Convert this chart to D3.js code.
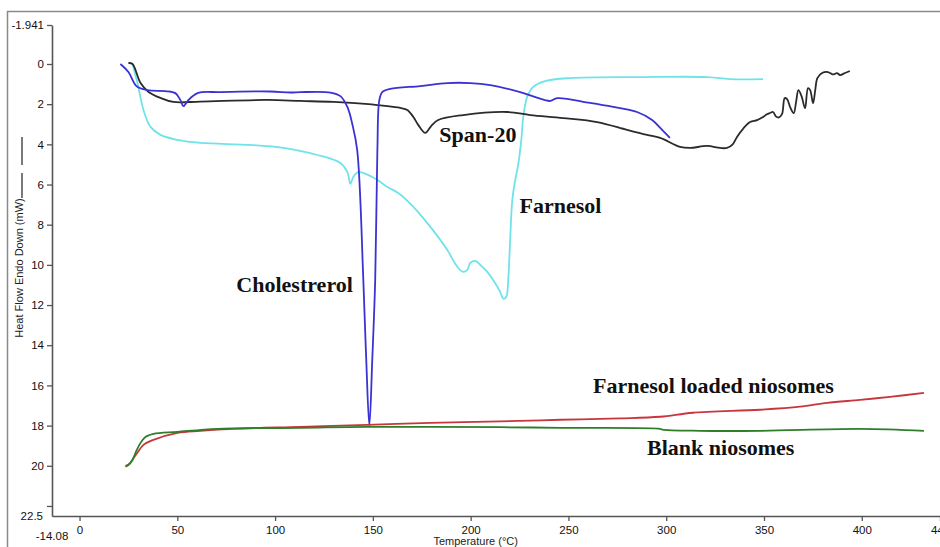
<!DOCTYPE html>
<html>
<head>
<meta charset="utf-8">
<script src="https://cdn.jsdelivr.net/npm/d3@7"></script>
<style>
  html, body { margin: 0; padding: 0; background: #fff; }
  svg { display: block; }
</style>
</head>
<body>
<svg id="chart" width="940" height="547"></svg>
<script>
// DSC thermograms: [temperature °C, heat flow mW] (endo down)
const cholesterolData = [
  [20.9, 0], [25, 0.4], [29.1, 1.1], [34.7, 1.3], [43.9, 1.35], [49, 1.45],
  [51.6, 1.8], [53.1, 2.1], [55.2, 1.85], [60.3, 1.45], [72, 1.4], [97.6, 1.37],
  [107.8, 1.42], [113, 1.4], [128.3, 1.42], [133.4, 1.6], [137, 2.15], [139.5, 3.0],
  [142, 4.3], [145.1, 10.7], [146.6, 14.7], [148.2, 18.0], [149.7, 14.7],
  [151.2, 10.7], [152.3, 4.3], [153.3, 1.8], [154.8, 1.4], [158.9, 1.24],
  [174.2, 1.1], [188, 0.95], [199.8, 0.95], [210, 1.05], [225.3, 1.4], [238, 1.8],
  [240.7, 1.84], [244.3, 1.7], [261, 1.94], [272.9, 2.14], [285.1, 2.39],
  [292.8, 2.79], [297.9, 3.28], [301.9, 3.68]
];

const span20Data = [
  [25, -0.05], [27.1, 0], [31.2, 0.95], [35.3, 1.39], [41.4, 1.69], [48, 1.89],
  [61.8, 1.87], [96, 1.79], [113, 1.84], [129.8, 1.89], [146.1, 1.99], [164, 2.19],
  [167.6, 2.29], [170.7, 2.64], [173.2, 3.03], [176.8, 3.43], [179.9, 3.08],
  [183.4, 2.79], [196.2, 2.54], [218.7, 2.39], [230.5, 2.54], [247.3, 2.69],
  [264.7, 2.89], [280, 3.28], [290.2, 3.53], [296.9, 3.68], [307.1, 4.13],
  [312.2, 4.18], [320.9, 4.08], [327.5, 4.18], [331.1, 4.18], [334, 4.0],
  [336.2, 3.63], [339.5, 3.2], [342.9, 2.89], [346.5, 2.79], [349.5, 2.64],
  [351.5, 2.5], [353.1, 2.44], [354.6, 2.39], [356.2, 2.62], [357.6, 2.66],
  [359.2, 2.5], [360.6, 1.7], [361.8, 1.75], [363.6, 2.2], [365.2, 2.45],
  [366.4, 1.9], [367.6, 1.3], [369.2, 1.6], [371, 2.2], [372.5, 1.2], [373.6, 1.3],
  [375.1, 1.95], [376.2, 1.3], [377.3, 0.7], [379.7, 0.45], [382.7, 0.4],
  [385.3, 0.52], [387.3, 0.45], [388.9, 0.55], [391.4, 0.45], [393.9, 0.35]
];

const farnesolData = [
  [27.1, 0], [29.6, 0.95], [32.7, 2.29], [36.3, 3.13], [41.4, 3.53], [50.1, 3.78],
  [61.8, 3.93], [87.4, 4.03], [104.2, 4.18], [121.6, 4.53], [133.4, 4.93],
  [136.9, 5.37], [138.5, 5.97], [140, 5.62], [142.6, 5.37], [145.1, 5.42],
  [152.3, 5.77], [157.4, 6.12], [163, 6.42], [170.7, 7.11], [179.4, 8.11],
  [188, 9.25], [193.2, 10.1], [196.2, 10.35], [198.3, 10.25], [199.8, 9.9],
  [202.4, 9.8], [204.9, 10.0], [208.5, 10.35], [211.5, 10.75], [215.1, 11.34],
  [216.7, 11.69], [218.2, 11.59], [219.2, 10.75], [220.2, 8.76], [221.3, 6.77],
  [222.8, 5.77], [224.3, 5.02], [225.9, 3.78], [226.9, 2.64], [228.9, 1.64],
  [232, 1.14], [238.1, 0.85], [250.9, 0.7], [286.7, 0.65], [320.9, 0.65],
  [332.6, 0.75], [349.5, 0.75]
];

const loadedNiosomesData = [
  [23.5, 20.05], [25, 19.95], [26.1, 19.85], [28.1, 19.55], [29.6, 19.35],
  [32.7, 18.96], [37.8, 18.71], [50.1, 18.36], [61.8, 18.26], [78.7, 18.16],
  [112.9, 18.06], [147.2, 17.96], [179.4, 17.86], [215.1, 17.79], [245.8, 17.71],
  [276.4, 17.64], [296.9, 17.56], [313.7, 17.36], [348, 17.21], [368.4, 17.06],
  [382.2, 16.87], [399.1, 16.72], [414.4, 16.57], [431.8, 16.37]
];

const blankNiosomesData = [
  [23.5, 20], [25, 19.95], [27.1, 19.7], [29.1, 19.25], [31.2, 18.86], [33.2, 18.61],
  [34.7, 18.51], [37.8, 18.41], [50.1, 18.31], [70.5, 18.16], [112.9, 18.11],
  [147.2, 18.06], [215.1, 18.08], [245.8, 18.11], [296.9, 18.16], [298, 18.2],
  [317.3, 18.26], [348, 18.26], [399.1, 18.16], [431.8, 18.26]
];

const xTicks = [0, 50, 100, 150, 200, 250, 300, 350, 400, 440];
const yTicks = [0, 2, 4, 6, 8, 10, 12, 14, 16, 18, 20, 22];
const yLabelled = [-1.941, 0, 2, 4, 6, 8, 10, 12, 14, 16, 18, 20, 22.5];
const xMin = -14.08, xMax = 440;
const yMin = -1.941, yMax = 22.5;

const seriesLabels = [
  { text: "Span-20", t: 184, v: 3.88 },
  { text: "Farnesol", t: 225, v: 7.41 },
  { text: "Cholestrerol", t: 80.2, v: 11.34 },
  { text: "Farnesol loaded niosomes", t: 262.6, v: 16.37 },
  { text: "Blank niosomes", t: 290.2, v: 19.45 }
];

const svg = d3.select("#chart");

// outer frame
svg.append("rect")
  .attr("x", 7.5).attr("y", 11.5)
  .attr("width", 960).attr("height", 560)
  .attr("fill", "none").attr("stroke", "#8a8a8a").attr("stroke-width", 1.5);

const x = d3.scaleLinear().domain([xMin, xMax]).range([52, 940]);
const y = d3.scaleLinear().domain([yMin, yMax]).range([25, 516]);

const axisColor = "#555";
const tickFont = "Liberation Sans, Arial, sans-serif";

// y axis
const yAxis = svg.append("g").attr("transform", `translate(${x(xMin)},0)`)
  .call(d3.axisLeft(y).tickValues(yTicks.concat([yMin])).tickSize(5).tickSizeOuter(0)
    .tickFormat(d => yLabelled.includes(d) ? String(d) : ""));
yAxis.append("text")
  .attr("x", -9).attr("y", y(yMax)).attr("dy", "0.32em")
  .attr("text-anchor", "end").text("22.5");

// x axis
const xAxis = svg.append("g").attr("transform", `translate(0,${y(yMax)})`)
  .call(d3.axisBottom(x).tickValues(xTicks).tickSize(5).tickSizeOuter(0));
xAxis.append("text")
  .attr("x", x(xMin)).attr("y", 16).attr("dy", "0.71em")
  .attr("text-anchor", "middle").text("-14.08");

svg.selectAll(".domain").attr("stroke", axisColor).attr("stroke-width", 1.6);
svg.selectAll(".tick line").attr("stroke", axisColor).attr("stroke-width", 1.3);
svg.selectAll("g text")
  .attr("fill", "#111").attr("font-family", tickFont).attr("font-size", 11.5);
xAxis.selectAll(".tick text").attr("y", 10);

// axis titles
svg.append("text")
  .attr("x", x(200) + 5).attr("y", 545)
  .attr("text-anchor", "middle")
  .attr("font-family", tickFont).attr("font-size", 11).attr("fill", "#222")
  .text("Temperature (°C)");

svg.append("text")
  .attr("transform", "translate(23,268) rotate(-90)")
  .attr("text-anchor", "middle")
  .attr("font-family", tickFont).attr("font-size", 11).attr("fill", "#222")
  .text("Heat Flow Endo Down (mW)");

// short marks beside the y title
[[137, 165], [173, 198]].forEach(([a, b]) => {
  svg.append("line")
    .attr("x1", 22).attr("x2", 22).attr("y1", a).attr("y2", b)
    .attr("stroke", "#333").attr("stroke-width", 1.3);
});

// curves
const line = d3.line()
  .x(d => x(d[0])).y(d => y(d[1]))
  .curve(d3.curveCatmullRom.alpha(0.5));

const series = [
  { data: farnesolData, color: "#6fe3ea" },
  { data: span20Data, color: "#2b2b2b" },
  { data: cholesterolData, color: "#3a32d2" },
  { data: loadedNiosomesData, color: "#c8363c" },
  { data: blankNiosomesData, color: "#2e7e2a" }
];

svg.append("g").selectAll("path").data(series).join("path")
  .attr("d", s => line(s.data))
  .attr("fill", "none")
  .attr("stroke", s => s.color)
  .attr("stroke-width", 1.8)
  .attr("stroke-linejoin", "round");

// series annotations
svg.append("g").selectAll("text").data(seriesLabels).join("text")
  .attr("x", d => x(d.t)).attr("y", d => y(d.v))
  .attr("font-family", "Liberation Serif, Times New Roman, serif")
  .attr("font-weight", "bold").attr("font-size", 22).attr("fill", "#111")
  .text(d => d.text);
</script>
</body>
</html>
